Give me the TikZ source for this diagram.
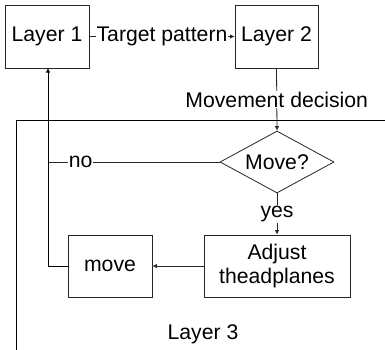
\documentclass[tikz,border=0pt]{standalone}
\usepackage{fontspec}
\setmainfont{Liberation Sans}
\usetikzlibrary{shapes.geometric,arrows.meta}
\begin{document}
\begin{tikzpicture}[x=1pt,y=-1pt,
  every node/.style={font=\fontsize{21.2}{23.5}\selectfont},
  box/.style={draw=black!85,line width=0.8pt,inner sep=0pt},
  conn/.style={draw=black!85,line width=0.8pt},
  arr/.style={conn,-{Latex[length=4.5pt,width=4.5pt]}},
  lbl/.style={fill=white,inner sep=1pt}]
\useasboundingbox (0,0) rectangle (385,349);
\clip (0,0) rectangle (385,349);
% Layer 3 frame
\draw[line width=0.8pt] (16,352) -- (16,120.5) -- (390,120.5);
\node (L3) at (203,334) {Layer 3};
% nodes
\node[box,minimum width=84pt,minimum height=63pt] (L1) at (47,36.5) {Layer 1};
\node[box,minimum width=83pt,minimum height=63pt] (L2) at (276.5,36.5) {Layer 2};
\node[box,diamond,aspect=1.84,minimum width=114pt,minimum height=62pt] (M) at (277,162) {Move?};
\node[box,minimum width=146pt,minimum height=62pt,align=center] (A) at (277,266) {Adjust\\theadplanes};
\node[box,minimum width=84pt,minimum height=62pt] (mv) at (110,266) {move};
\coordinate (cm) at (48,266);
\coordinate (nj) at (48,162);
\coordinate (up) at (48,68);
% connectors
\draw[arr] (L1.east) -- node[lbl,midway] {Target pattern} (L2.west);
\draw[arr] (L2.south) -- node[lbl,midway] {Movement decision} (M.north);
\draw[conn] (M.west) -- node[lbl,pos=0.81] {no} (nj);
\draw[arr] (M.south) -- node[lbl,midway] {yes} (A.north);
\draw[arr] (A.west) -- (mv.east);
\draw[arr,draw=black] (mv.west) -- (cm) -- (up);
\end{tikzpicture}
\end{document}
